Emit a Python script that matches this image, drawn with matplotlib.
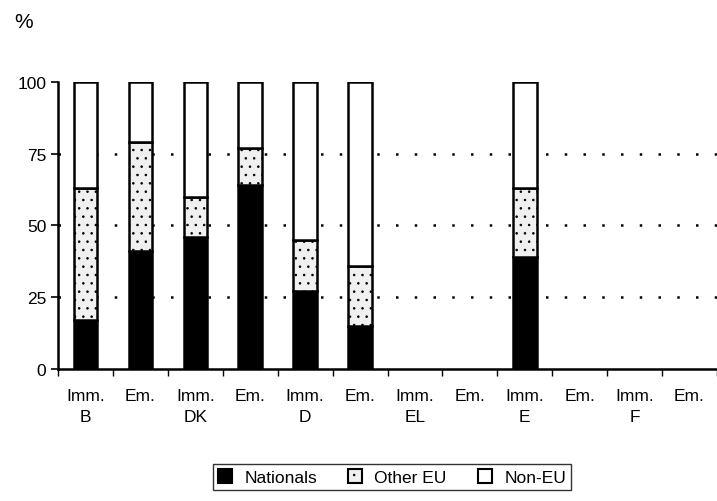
import matplotlib
matplotlib.use("Agg")
import matplotlib.pyplot as plt
from matplotlib.patches import Patch
import numpy as np

plt.rcParams['font.family'] = ['Liberation Sans', 'DejaVu Sans']
plt.rcParams['hatch.color'] = '#8a8a8a'
plt.rcParams['hatch.linewidth'] = 0.6

# flows per country: immigration / emigration
flow_labels = ['Imm.', 'Em.'] * 6
countries = ['B', 'DK', 'D', 'EL', 'E', 'F']

# shares in %, EL and F have no data
nationals = [17, 41, 46, 64, 27, 15, 0, 0, 39, 0, 0, 0]
other_eu = [46, 38, 14, 13, 18, 21, 0, 0, 24, 0, 0, 0]
non_eu = [37, 21, 40, 23, 55, 64, 0, 0, 37, 0, 0, 0]

fig = plt.figure(figsize=(7.17, 5.02), dpi=100)
ax = fig.add_axes([0.081, 0.263, 0.919, 0.572])

x = np.arange(len(flow_labels))
nat = np.array(nationals)
oth = np.array(other_eu)
non = np.array(non_eu)
has_data = (nat + oth + non) > 0
w = 0.43

for y in (25, 50, 75):
    ax.axhline(y, color='black', lw=1.8, linestyle=(0, (1, 6.5)), zorder=1)

ax.bar(x[has_data], nat[has_data], w, color='black', edgecolor='black',
       lw=1.8, zorder=3)
ax.bar(x[has_data], oth[has_data], w, bottom=nat[has_data], color='#f0f0f0',
       hatch='..', edgecolor='black', lw=1.8, zorder=3)
ax.bar(x[has_data], non[has_data], w, bottom=(nat + oth)[has_data],
       color='white', edgecolor='black', lw=1.8, zorder=3)

ax.set_ylim(0, 100)
ax.set_xlim(-0.5, 11.27)
ax.set_yticks([0, 25, 50, 75, 100])
ax.tick_params(axis='y', labelsize=12.5, length=5, width=1.2, direction='out')

labels = []
for i, f in enumerate(flow_labels):
    if i % 2 == 0:
        labels.append(f + '\n' + countries[i // 2])
    else:
        labels.append(f + '\n ')
ax.set_xticks(x)
ax.set_xticklabels(labels, fontsize=12.5, linespacing=1.45)
ax.tick_params(axis='x', length=0, pad=14)
ax.set_xticks(np.arange(-0.5, 12, 1), minor=True)
ax.tick_params(axis='x', which='minor', length=5, width=1, direction='out')

for s in ('top', 'right'):
    ax.spines[s].set_visible(False)
ax.spines['left'].set_linewidth(1.8)
ax.spines['bottom'].set_linewidth(1.8)

fig.text(0.02, 0.955, '%', fontsize=15, va='center', ha='left')

handles = [
    Patch(facecolor='black', edgecolor='black', lw=1.5),
    Patch(facecolor='#f0f0f0', hatch='..', edgecolor='black', lw=1.5),
    Patch(facecolor='white', edgecolor='black', lw=1.5),
]
leg = fig.legend(handles, ['Nationals', 'Other EU', 'Non-EU'], loc='lower center',
                 bbox_to_anchor=(0.547, 0.004), ncol=3, fontsize=12.5,
                 frameon=True, fancybox=False, edgecolor='black',
                 handlelength=0.8, handleheight=0.8, handletextpad=0.7,
                 columnspacing=1.8, borderpad=0.3)
leg.get_frame().set_linewidth(1.0)

fig.savefig('out.png', dpi=100)
